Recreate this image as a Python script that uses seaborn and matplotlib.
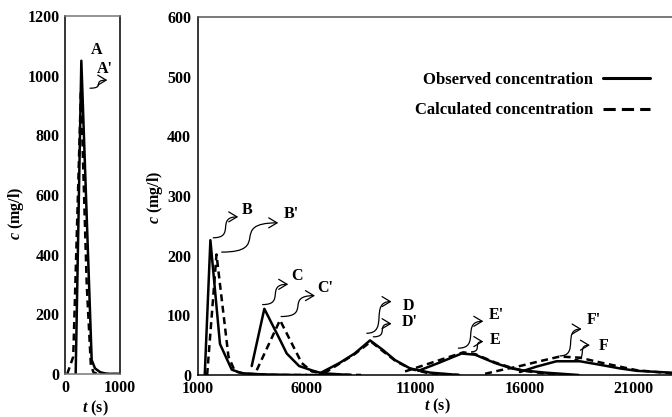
import matplotlib
matplotlib.use('Agg')
import matplotlib.pyplot as plt
import seaborn as sns
from matplotlib.path import Path
from matplotlib.patches import FancyArrowPatch
from matplotlib.lines import Line2D

# ---------------- data ----------------
# Left panel: peak A (observed) / A' (calculated)
obs_A_t = [194, 297, 485, 545, 640, 750, 1000]
obs_A_c = [0, 1050, 47, 19, 6, 1, 0]
calc_A_t = [40, 150, 290, 395, 470, 520, 600, 1000]
calc_A_c = [0, 58, 950, 300, 30, 5, 0, 0]

# Right panel: peaks B..F
obs_B_t = [1310, 1570, 2010, 2550, 3000, 4000, 5500, 7000]
obs_B_c = [0, 226, 52, 9, 3, 1, 0, 0]
calc_B_t = [1420, 1850, 2400, 2700, 3200, 4500, 6000]
calc_B_c = [0, 202, 31, 6, 2, 0, 0]

obs_C_t = [3470, 4050, 4770, 5080, 5650, 6300, 6700, 8000]
obs_C_c = [15, 111, 59, 36, 15, 7, 3, 0]
calc_C_t = [3700, 4770, 5380, 5770, 6230, 7000, 8500]
calc_C_c = [8, 92, 48, 20, 6, 1, 0]

obs_D_t = [6610, 7500, 8200, 8910, 9500, 10060, 10750, 11670, 13000]
obs_D_c = [3, 20, 36, 58, 42, 25, 11, 4, 0]
calc_D_t = [6800, 7500, 8200, 8950, 9500, 10100, 10800, 11600, 13000]
calc_D_c = [3, 19, 35, 56, 40, 23, 10, 3, 0]

obs_E_t = [11130, 12050, 13120, 13740, 14660, 15420, 15870, 16950, 18500]
obs_E_c = [7, 20, 36, 34, 20, 11, 8, 4, 0]
calc_E_t = [10520, 11440, 12360, 13200, 13740, 14660, 15420, 16000, 17500]
calc_E_c = [6, 17, 28, 38, 35, 21, 12, 7, 0]

obs_F_t = [15800, 16560, 17480, 18560, 19500, 20400, 21170, 22700, 25000]
obs_F_c = [5, 14, 23, 23, 17, 11, 7, 4, 2]
calc_F_t = [14200, 14900, 15800, 16700, 17640, 18560, 19500, 20400, 21170, 22700, 25000]
calc_F_c = [2, 8, 15, 23, 31, 29, 21, 14, 8, 3, 1]

left_xticks = [0, 1000]
left_yticks = [0, 200, 400, 600, 800, 1000, 1200]
right_xticks = [1000, 6000, 11000, 16000, 21000]
right_yticks = [0, 100, 200, 300, 400, 500, 600]

legend_labels = ['Observed concentration', 'Calculated concentration']

# peak labels: (text, arrow tail, arrow head, label position)
left_notes = [("A", None, None, (576, 1086)),
              ("A'", (455, 958), (770, 985), (727, 1022))]
right_notes = [("B", (1700, 230), (2850, 265), (3240, 277)),
               ("B'", (2090, 206), (4690, 255), (5310, 269)),
               ("C", (3970, 118), (5150, 152), (5540, 166)),
               ("C'", (4820, 98), (6380, 133), (6840, 145)),
               ("D", (8760, 70), (9900, 123), (10670, 116)),
               ("D'", (9060, 64), (9900, 86), (10750, 88)),
               ("E'", (12970, 45), (14120, 90), (14730, 101)),
               ("E", (13580, 39), (14120, 56), (14650, 58)),
               ("F'", (17640, 32), (18640, 77), (19180, 92)),
               ("F", (18330, 26), (19020, 50), (19630, 49))]

# ---------------- style ----------------
sns.set_style('white')
plt.rcParams['font.family'] = ['Liberation Serif', 'DejaVu Serif']
plt.rcParams['font.weight'] = 'bold'
plt.rcParams['mathtext.fontset'] = 'custom'
plt.rcParams['mathtext.it'] = 'Liberation Serif:italic:bold'
plt.rcParams['mathtext.rm'] = 'Liberation Serif:bold'
for k in ['text.color', 'axes.labelcolor', 'xtick.color', 'ytick.color']:
    plt.rcParams[k] = 'black'

LW = 1.8
DASH = (0, (2.8, 1.8))

fig = plt.figure(figsize=(6.72, 4.17), dpi=100)
axL = fig.add_axes([65 / 672, 43 / 417, 55 / 672, 358 / 417])
axR = fig.add_axes([198 / 672, 42 / 417, 543.75 / 672, 358 / 417])


def draw(ax, t, c, dashed):
    kw = dict(linestyle=DASH) if dashed else dict(linestyle='-')
    sns.lineplot(x=t, y=c, ax=ax, color='black', linewidth=LW, sort=False,
                 estimator=None, **kw)


draw(axL, calc_A_t, calc_A_c, True)
draw(axL, obs_A_t, obs_A_c, False)
for (ot, oc, ct, cc) in [(obs_B_t, obs_B_c, calc_B_t, calc_B_c),
                         (obs_C_t, obs_C_c, calc_C_t, calc_C_c),
                         (obs_D_t, obs_D_c, calc_D_t, calc_D_c),
                         (obs_E_t, obs_E_c, calc_E_t, calc_E_c),
                         (obs_F_t, obs_F_c, calc_F_t, calc_F_c)]:
    draw(axR, ct, cc, True)
    draw(axR, ot, oc, False)


def curly(ax, tail, head, w=0.9):
    (x0, y0), (x3, y3) = tail, head
    dx = x3 - x0
    verts = [(x0, y0), (x0 + w * dx, y0), (x3 - w * dx, y3), (x3, y3)]
    path = Path(verts, [Path.MOVETO, Path.CURVE4, Path.CURVE4, Path.CURVE4])
    p = FancyArrowPatch(path=path, arrowstyle='->,head_length=0.5,head_width=0.3',
                        mutation_scale=12, lw=0.9, color='black',
                        transform=ax.transData)
    ax.add_patch(p)


for ax, notes in [(axL, left_notes), (axR, right_notes)]:
    for txt, tail, head, pos in notes:
        if tail is not None:
            curly(ax, tail, head)
        ax.text(pos[0], pos[1], txt, ha='center', va='center',
                fontsize=11.5, fontweight='bold')

# ---------------- axes ----------------
axL.set_xlim(0, 1000)
axL.set_ylim(0, 1200)
axL.set_xticks(left_xticks)
axL.set_yticks(left_yticks)
axL.tick_params(axis='both', direction='in', length=3, width=0.8,
                labelsize=11.5, pad=4)
for s in ['top', 'bottom']:
    axL.spines[s].set_color('#777777')
for s in ['left', 'right']:
    axL.spines[s].set_color('black')
for s in axL.spines.values():
    s.set_linewidth(1.1)
    s.set_visible(True)

axR.set_xlim(1000, 26000)
axR.set_ylim(0, 600)
axR.set_xticks(right_xticks)
axR.set_yticks(right_yticks)
axR.tick_params(axis='y', direction='out', length=3.5, width=0.8,
                labelsize=11.5, pad=1.5)
axR.tick_params(axis='x', direction='in', length=3, width=0.8,
                labelsize=11.5, pad=4)
axR.spines['right'].set_visible(False)
axR.spines['top'].set_color('#555555')
axR.spines['left'].set_color('black')
axR.spines['bottom'].set_color('black')
for s in axR.spines.values():
    s.set_linewidth(1.1)

for ax in (axL, axR):
    for lab in ax.get_xticklabels() + ax.get_yticklabels():
        lab.set_fontweight('bold')

axL.set_xlabel(r'$t$ (s)', fontsize=11.5, fontweight='bold')
axL.set_ylabel(r'$c$ (mg/l)', fontsize=11.5, fontweight='bold')
axR.set_xlabel(r'$t$ (s)', fontsize=11.5, fontweight='bold')
axR.set_ylabel(r'$c$ (mg/l)', fontsize=11.5, fontweight='bold')
axL.xaxis.set_label_coords(0.545, -0.07)
axL.yaxis.set_label_coords(-0.70, 0.45)
axR.xaxis.set_label_coords(0.44, -0.062)
axR.yaxis.set_label_coords(-0.06, 0.497)

handles = [Line2D([], [], color='black', lw=2.2, linestyle='-'),
           Line2D([], [], color='black', lw=2.2, linestyle=(0, (4, 2)))]
axR.legend(handles, legend_labels, loc='upper right',
           bbox_to_anchor=(650 / 672, (417 - 71.5) / 417),
           bbox_transform=fig.transFigure, frameon=False, markerfirst=False,
           prop=dict(family='Liberation Serif', weight='bold', size=12),
           handlelength=2.8, handletextpad=0.6, labelspacing=0.9,
           borderpad=0, borderaxespad=0)

fig.savefig('out.png', dpi=100)
